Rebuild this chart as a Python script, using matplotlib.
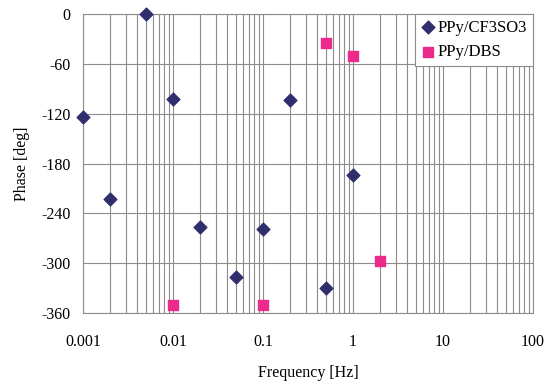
import matplotlib
matplotlib.use("Agg")
import matplotlib.pyplot as plt
from matplotlib.ticker import LogLocator, FixedLocator, FixedFormatter, NullFormatter

plt.rcParams['font.family'] = ['Liberation Serif', 'DejaVu Serif']
plt.rcParams['axes.unicode_minus'] = False

cf3_freq = [0.001, 0.002, 0.005, 0.01, 0.02, 0.05, 0.1, 0.2, 0.5, 1]
cf3_phase = [-124, -223, 0, -102, -256, -317, -259, -103, -330, -194]
dbs_freq = [0.01, 0.1, 0.5, 1, 2]
dbs_phase = [-350, -350, -35, -51, -297]

x_ticks = [0.001, 0.01, 0.1, 1, 10, 100]
x_labels = ["0.001", "0.01", "0.1", "1", "10", "100"]
y_ticks = [0, -60, -120, -180, -240, -300, -360]

fig = plt.figure(figsize=(5.51, 3.85), dpi=100)
ax = fig.add_axes([0.1506, 0.187, 0.8164, 0.7766])
ax.set_xscale('log')
ax.set_xlim(0.001, 100)
ax.set_ylim(-360, 0)

ax.xaxis.set_major_locator(FixedLocator(x_ticks))
ax.xaxis.set_major_formatter(FixedFormatter(x_labels))
ax.xaxis.set_minor_locator(LogLocator(base=10, subs=range(2, 10)))
ax.xaxis.set_minor_formatter(NullFormatter())
ax.set_yticks(y_ticks)

ax.grid(True, which='major', axis='both', color='#8c8c8c', linewidth=0.8)
ax.grid(True, which='minor', axis='x', color='#8c8c8c', linewidth=0.8)
ax.set_axisbelow(True)
for s in ax.spines.values():
    s.set_color('#8c8c8c')
    s.set_linewidth(0.8)
ax.tick_params(which='both', length=0, labelsize=11.5, colors='black')
ax.tick_params(axis='x', pad=15)
ax.tick_params(axis='y', pad=9)

ax.scatter(cf3_freq, cf3_phase, marker='D', s=42, color='#2f2f6e', label='PPy/CF3SO3', zorder=3, clip_on=False)
ax.scatter(dbs_freq, dbs_phase, marker='s', s=42, color='#ec2a8c', label='PPy/DBS', zorder=3, clip_on=False)

ax.set_xlabel('Frequency [Hz]', fontsize=11.5, labelpad=11)
ax.set_ylabel('Phase [deg]', fontsize=11.5, labelpad=8)

leg = ax.legend(loc='upper right', fontsize=12, frameon=True, fancybox=False,
                edgecolor='#8c8c8c', framealpha=1, borderaxespad=0,
                handletextpad=0.1, handlelength=0.9, borderpad=0.35, labelspacing=0.5)
leg.get_frame().set_linewidth(0.8)

fig.savefig('out.png', dpi=100)
